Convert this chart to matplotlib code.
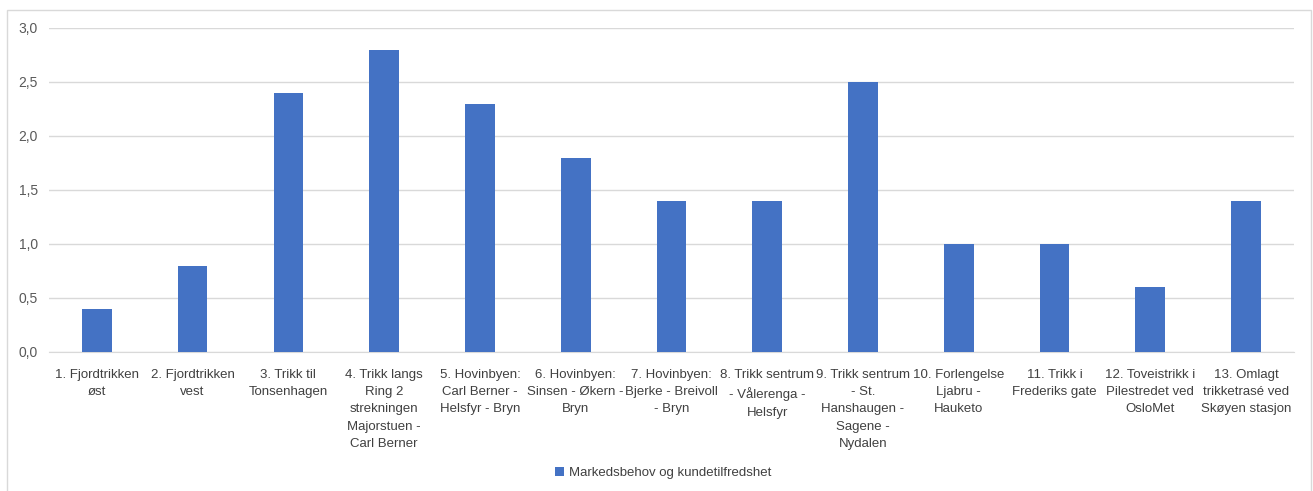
import matplotlib.pyplot as plt
import matplotlib.patches as mpatches
import numpy as np

labels = [
    "1. Fjordtrikken\nøst",
    "2. Fjordtrikken\nvest",
    "3. Trikk til\nTonsenhagen",
    "4. Trikk langs\nRing 2\nstrekningen\nMajorstuen -\nCarl Berner",
    "5. Hovinbyen:\nCarl Berner -\nHelsfyr - Bryn",
    "6. Hovinbyen:\nSinsen - Økern -\nBryn",
    "7. Hovinbyen:\nBjerke - Breivoll\n- Bryn",
    "8. Trikk sentrum\n- Vålerenga -\nHelsfyr",
    "9. Trikk sentrum\n- St.\nHanshaugen -\nSagene -\nNydalen",
    "10. Forlengelse\nLjabru -\nHauketo",
    "11. Trikk i\nFrederiks gate",
    "12. Toveistrikk i\nPilestredet ved\nOsloMet",
    "13. Omlagt\ntrikketrasé ved\nSkøyen stasjon",
]
values = [0.4, 0.8, 2.4, 2.8, 2.3, 1.8, 1.4, 1.4, 2.5, 1.0, 1.0, 0.6, 1.4]
series_name = "Markedsbehov og kundetilfredshet"
yticks = [0.0, 0.5, 1.0, 1.5, 2.0, 2.5, 3.0]

plt.rcParams['font.family'] = ['Liberation Sans', 'DejaVu Sans']

fig = plt.figure(figsize=(13.13, 4.91), dpi=100)
ax = fig.add_axes([0.0373, 0.2831, 0.9482, 0.66])

x = np.arange(len(values))
ax.bar(x, values, width=0.31, color='#4472C4', label=series_name, zorder=3)

ax.set_xlim(-0.5, len(values) - 0.5)
ax.set_ylim(0, 3.0)
ax.set_yticks(yticks)
ax.set_yticklabels([f"{v:.1f}".replace('.', ',') for v in yticks],
                   fontsize=10, color='#595959')
ax.set_xticks(x)
ax.set_xticklabels(labels, fontsize=9.5, color='#404040', linespacing=1.6)
ax.tick_params(axis='both', length=0, pad=8)
ax.tick_params(axis='x', pad=12)

ax.grid(axis='y', color='#d9d9d9', linewidth=1, zorder=0)
for s in ['top', 'right', 'left']:
    ax.spines[s].set_visible(False)
ax.spines['bottom'].set_color('#d9d9d9')

fig.legend(loc='center', bbox_to_anchor=(0.505, 0.036), frameon=False,
           fontsize=9.5, handlelength=0.7, handleheight=0.7, handletextpad=0.4,
           labelcolor='#404040')

fig.patches.append(mpatches.Rectangle((7 / 1313, -0.01), 1304 / 1313, 1 - 10 / 491 + 0.01,
                                      transform=fig.transFigure, fill=False,
                                      edgecolor='#d9d9d9', linewidth=1))

fig.savefig("out.png", dpi=100)
